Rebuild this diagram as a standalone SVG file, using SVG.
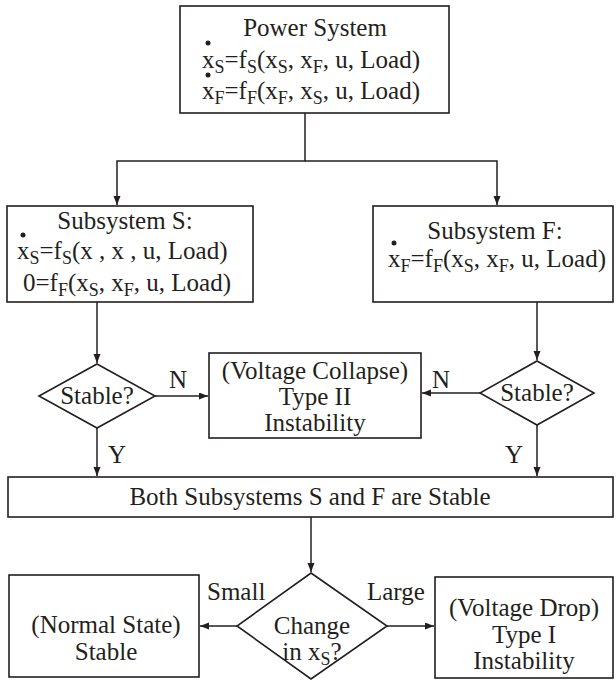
<svg xmlns="http://www.w3.org/2000/svg" width="616" height="682" viewBox="0 0 616 682">
<defs>
<style>
.b{fill:#fff;stroke:#231f20;stroke-width:1.6}
.c{fill:none;stroke:#231f20;stroke-width:1.5}
text{font-family:"Liberation Serif","Times New Roman",serif;font-size:25px;fill:#231f20}
.m{text-anchor:middle}
.s{font-size:18px}
.d{fill:#231f20}
</style>
<marker id="ah" markerUnits="userSpaceOnUse" markerWidth="10" markerHeight="8" refX="9" refY="3.5" orient="auto">
<path d="M0,0 L9,3.5 L0,7 z" fill="#231f20"/>
</marker>
</defs>
<rect width="616" height="682" fill="#fff"/>

<g id="connectors">
<path class="c" d="M305,113 V161 H117 V205" marker-end="url(#ah)"/>
<path class="c" d="M305,161 H497 V205" marker-end="url(#ah)"/>
<path class="c" d="M97,302 V363" marker-end="url(#ah)"/>
<path class="c" d="M155,396 H208" marker-end="url(#ah)"/>
<path class="c" d="M537,302 V360" marker-end="url(#ah)"/>
<path class="c" d="M480,393 H422" marker-end="url(#ah)"/>
<path class="c" d="M97,428 V476" marker-end="url(#ah)"/>
<path class="c" d="M537,425 V476" marker-end="url(#ah)"/>
<path class="c" d="M311,517 V572" marker-end="url(#ah)"/>
<path class="c" d="M237,626 H200" marker-end="url(#ah)"/>
<path class="c" d="M387,626 H434" marker-end="url(#ah)"/>
<text x="169" y="388">N</text>
<text x="432" y="388">N</text>
<text x="108" y="463">Y</text>
<text x="505" y="463">Y</text>
<text x="207" y="600">Small</text>
<text x="367" y="600">Large</text>
</g>

<g id="power-system">
<rect class="b" x="180" y="6" width="269" height="107"/>
<text class="m" x="315" y="36">Power System</text>
<circle class="d" cx="208" cy="43" r="2.5"/>
<text x="202" y="68">x<tspan class="s" dy="5">S</tspan><tspan dy="-5">=f</tspan><tspan class="s" dy="5">S</tspan><tspan dy="-5">(x</tspan><tspan class="s" dy="5">S</tspan><tspan dy="-5">, x</tspan><tspan class="s" dy="5">F</tspan><tspan dy="-5">, u, Load)</tspan></text>
<circle class="d" cx="208" cy="75" r="2.5"/>
<text x="202" y="99">x<tspan class="s" dy="5">F</tspan><tspan dy="-5">=f</tspan><tspan class="s" dy="5">F</tspan><tspan dy="-5">(x</tspan><tspan class="s" dy="5">F</tspan><tspan dy="-5">, x</tspan><tspan class="s" dy="5">S</tspan><tspan dy="-5">, u, Load)</tspan></text>
</g>

<g id="subsystem-s">
<rect class="b" x="7" y="206" width="246" height="96"/>
<text class="m" x="125" y="229">Subsystem S:</text>
<circle class="d" cx="23" cy="235" r="2.5"/>
<text x="17" y="259">x<tspan class="s" dy="5">S</tspan><tspan dy="-5">=f</tspan><tspan class="s" dy="5">S</tspan><tspan dy="-5">(x , x , u, Load)</tspan></text>
<text x="23" y="291">0=f<tspan class="s" dy="5">F</tspan><tspan dy="-5">(x</tspan><tspan class="s" dy="5">S</tspan><tspan dy="-5">, x</tspan><tspan class="s" dy="5">F</tspan><tspan dy="-5">, u, Load)</tspan></text>
</g>

<g id="subsystem-f">
<rect class="b" x="373" y="206" width="240" height="96"/>
<text class="m" x="495" y="239">Subsystem F:</text>
<circle class="d" cx="394" cy="243" r="2.5"/>
<text x="388" y="267">x<tspan class="s" dy="5">F</tspan><tspan dy="-5">=f</tspan><tspan class="s" dy="5">F</tspan><tspan dy="-5">(x</tspan><tspan class="s" dy="5">S</tspan><tspan dy="-5">, x</tspan><tspan class="s" dy="5">F</tspan><tspan dy="-5">, u, Load)</tspan></text>
</g>

<g id="stable-s">
<polygon class="b" points="97,364 155,396 97,428 39,396"/>
<text class="m" x="97" y="404">Stable?</text>
</g>

<g id="type-ii">
<rect class="b" x="209" y="353" width="212" height="85"/>
<text class="m" x="315" y="379">(Voltage Collapse)</text>
<text class="m" x="315" y="405">Type II</text>
<text class="m" x="315" y="431">Instability</text>
</g>

<g id="stable-f">
<polygon class="b" points="537,361 594,393 537,425 480,393"/>
<text class="m" x="537" y="401">Stable?</text>
</g>

<g id="both-stable">
<rect class="b" x="8" y="477" width="605" height="40"/>
<text class="m" x="310" y="505">Both Subsystems S and F are Stable</text>
</g>

<g id="change">
<polygon class="b" points="311,573 387,626 311,679 237,626"/>
<text class="m" x="312" y="634">Change</text>
<text class="m" x="312" y="660">in x<tspan class="s" dy="5">S</tspan><tspan dy="-5">?</tspan></text>
</g>

<g id="normal-state">
<rect class="b" x="9" y="575" width="190" height="102"/>
<text class="m" x="106" y="633">(Normal State)</text>
<text class="m" x="106" y="660">Stable</text>
</g>

<g id="type-i">
<rect class="b" x="435" y="577" width="178" height="101"/>
<text class="m" x="524" y="616">(Voltage Drop)</text>
<text class="m" x="524" y="643">Type I</text>
<text class="m" x="524" y="669">Instability</text>
</g>
</svg>
